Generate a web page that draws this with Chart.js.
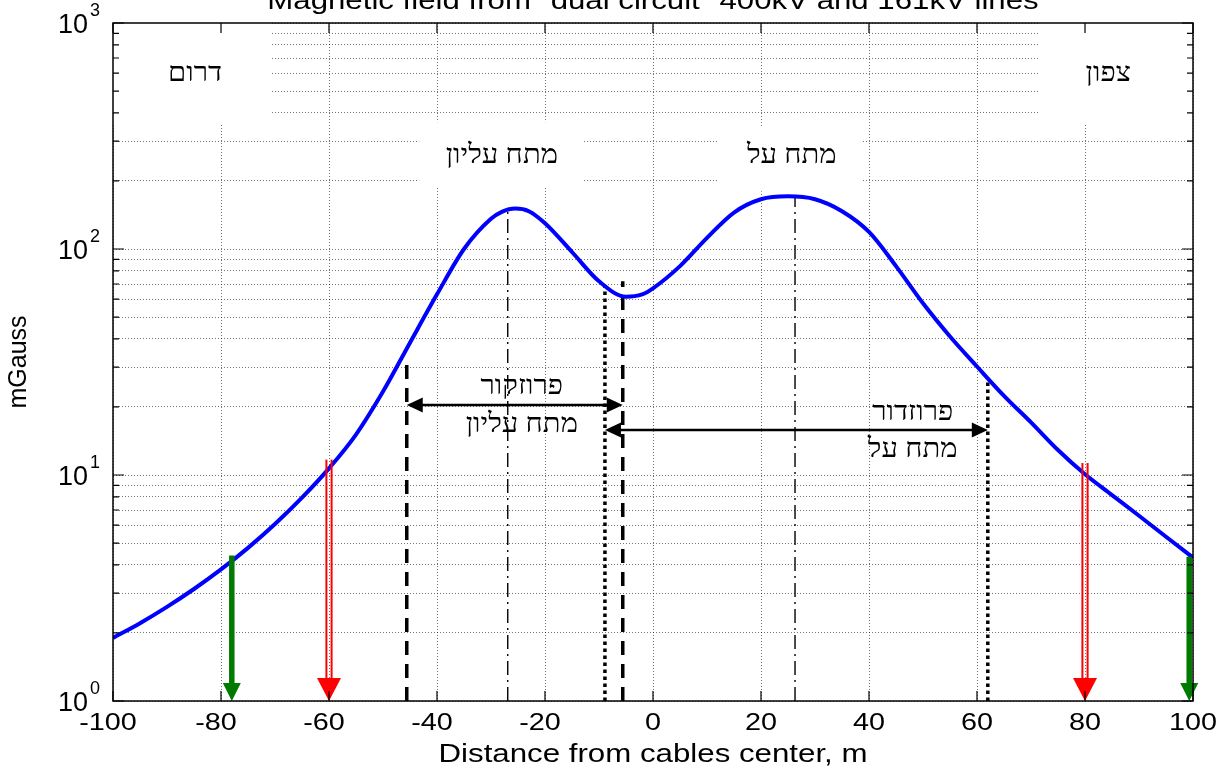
<!DOCTYPE html>
<html>
<head>
<meta charset="utf-8">
<script src="https://cdn.jsdelivr.net/npm/chart.js@4.4.1/dist/chart.umd.min.js"></script>
<style>
html, body { margin: 0; padding: 0; background: #fff; }
#wrap { width: 1227px; height: 772px; position: relative; }
</style>
</head>
<body>
<div id="wrap"><canvas id="myChart"></canvas></div>
<script>
// Curva del campo magnetico
const distance = [-100, -95, -90, -85, -80, -75, -70, -65, -60, -55, -50, -45, -40, -35, -30, -28, -25.5, -23, -20, -15, -10, -5, -2, 0, 5, 10, 15, 20, 25, 30, 35, 40, 45, 50, 55, 60, 65, 70, 75, 80, 85, 90, 95, 100];
const fieldMG = [1.9, 2.21, 2.61, 3.13, 3.82, 4.76, 6.07, 7.94, 10.7, 15.1, 23.4, 38.5, 63, 100, 136, 146, 151, 147, 130, 97, 72, 61.5, 63, 67, 84, 112, 145, 166, 171, 166, 147, 119, 84, 57.5, 41, 30.2, 22.4, 17.1, 12.9, 10.07, 8.15, 6.6, 5.33, 4.31];

// Ejes
const xTicks = [-100, -80, -60, -40, -20, 0, 20, 40, 60, 80, 100];
const yDecades = [1, 10, 100, 1000];
const yExponents = ['0', '1', '2', '3'];

// Lineas verticales (posicion y altura superior)
const dashX = [-45.6, -5.6];
const dashTop = [31, 72];
const dotX = [-8.9, 62];
const dotTop = [68, 26];
const centerX = [-26.9, 26.3];
const centerTop = [150, 171];

// Flechas
const redX = [-60, 80];
const redTop = [11.7, 11.3];
const greenX = [-78, 99.3];
const greenTop = [4.4, 4.35];
const spanFrom = [-45.6, -8.9];
const spanTo = [-5.6, 62];
const spanY = [20.4, 15.8];

// Textos
const titleText = 'Magnetic field from "dual circuit" 400kV and 161kV lines';
const xTitle = 'Distance from cables center, m';
const yTitle = 'mGauss';
const zoneNames = ['דרום', 'צפון', 'מתח עליון', 'מתח על'];
const corridorTop = ['פרוזקור', 'פרוזדור'];
const corridorBottom = ['מתח עליון', 'מתח על'];

// cajas blancas de las zonas: [x1, x2, y1, y2, xTexto, yTexto] en unidades de datos
const zoneBoxes = [
    [-100, -70.9, 1000, 356, -84.8, 594],
    [71.3, 100, 1000, 356, 84.3, 594],
    [-43.3, -12.8, 364, 189, -28, 257],
    [12.2, 38.9, 349, 180, 25.7, 257]
];
const corridorTextX = [-24.3, 48.1];
const corridorTextY = [[24.6, 16.7], [18.9, 12.9]];

const SANS = '"Liberation Sans", Arial';
const SERIF = '"Liberation Serif", serif';

function logTicks() {
    const t = [];
    for (let d = 1; d < 1000; d *= 10) {
        for (let k = 1; k < 10; k++) t.push(k * d);
    }
    t.push(1000);
    return t;
}

function vline(x, top, width, dash) {
    return {
        data: [{ x: x, y: 1 }, { x: x, y: top }],
        borderColor: '#000',
        borderWidth: width,
        borderDash: dash,
        borderCapStyle: 'butt',
        pointRadius: 0,
        order: 2
    };
}

const datasets = [{
    data: distance.map((x, i) => ({ x: x, y: fieldMG[i] })),
    borderColor: '#0000ff',
    borderWidth: 4,
    pointRadius: 0,
    cubicInterpolationMode: 'monotone',
    order: 1
}];
dashX.forEach((x, i) => datasets.push(vline(x, dashTop[i], 3.5, [14, 9])));
dotX.forEach((x, i) => datasets.push(vline(x, dotTop[i], 3.5, [3.5, 3.5])));
centerX.forEach((x, i) => datasets.push(vline(x, centerTop[i], 1.4, [14, 5, 2, 5])));

function arrowHead(ctx, tipX, tipY, dirX, dirY, len, half) {
    const nx = -dirY, ny = dirX;
    ctx.beginPath();
    ctx.moveTo(tipX, tipY);
    ctx.lineTo(tipX - dirX * len + nx * half, tipY - dirY * len + ny * half);
    ctx.lineTo(tipX - dirX * len - nx * half, tipY - dirY * len - ny * half);
    ctx.closePath();
    ctx.fill();
}

// texto algo ensanchado, como en la figura original
function wideText(ctx, txt, x, y, sx) {
    ctx.save();
    ctx.translate(x, y);
    ctx.scale(sx, 1);
    ctx.fillText(txt, 0, 0);
    ctx.restore();
}

const zonesPlugin = {
    id: 'zones',
    beforeDatasetsDraw(chart) {
        const { ctx, scales: { x, y } } = chart;
        ctx.save();
        ctx.fillStyle = '#fff';
        zoneBoxes.forEach(b => {
            const x1 = x.getPixelForValue(b[0]), x2 = x.getPixelForValue(b[1]);
            const y1 = y.getPixelForValue(b[2]), y2 = y.getPixelForValue(b[3]);
            ctx.fillRect(x1, y1, x2 - x1, y2 - y1);
        });
        ctx.fillStyle = '#000';
        ctx.font = '27px ' + SERIF;
        ctx.textAlign = 'center';
        ctx.textBaseline = 'middle';
        zoneBoxes.forEach((b, i) => {
            wideText(ctx, zoneNames[i], x.getPixelForValue(b[4]), y.getPixelForValue(b[5]), 1.08);
        });
        ctx.restore();
    },
    afterDatasetsDraw(chart) {
        const { ctx, chartArea: a, scales: { x, y } } = chart;
        const bottom = a.bottom;
        ctx.save();

        // flechas rojas dobles
        redX.forEach((v, i) => {
            const px = x.getPixelForValue(v), top = y.getPixelForValue(redTop[i]);
            ctx.strokeStyle = '#ff0000';
            ctx.lineWidth = 2;
            [-2.6, 2.6].forEach(o => {
                ctx.beginPath();
                ctx.moveTo(px + o, top);
                ctx.lineTo(px + o, bottom - 20);
                ctx.stroke();
            });
            ctx.fillStyle = '#ff0000';
            arrowHead(ctx, px, bottom, 0, 1, 23, 12);
        });

        // flechas verdes
        greenX.forEach((v, i) => {
            const px = x.getPixelForValue(v), top = y.getPixelForValue(greenTop[i]);
            ctx.strokeStyle = '#007a00';
            ctx.lineWidth = 5.5;
            ctx.beginPath();
            ctx.moveTo(px, top);
            ctx.lineTo(px, bottom - 15);
            ctx.stroke();
            ctx.fillStyle = '#007a00';
            arrowHead(ctx, px, bottom, 0, 1, 18, 9);
        });

        // flechas de corredor
        ctx.strokeStyle = '#000';
        ctx.fillStyle = '#000';
        ctx.lineWidth = 2.5;
        spanFrom.forEach((v, i) => {
            const x1 = x.getPixelForValue(v), x2 = x.getPixelForValue(spanTo[i]);
            const py = y.getPixelForValue(spanY[i]);
            ctx.beginPath();
            ctx.moveTo(x1 + 10, py);
            ctx.lineTo(x2 - 10, py);
            ctx.stroke();
            arrowHead(ctx, x1, py, -1, 0, 16, 7.5);
            arrowHead(ctx, x2, py, 1, 0, 16, 7.5);
        });

        ctx.font = '27px ' + SERIF;
        ctx.textAlign = 'center';
        ctx.textBaseline = 'middle';
        corridorTextX.forEach((v, i) => {
            const px = x.getPixelForValue(v);
            wideText(ctx, corridorTop[i], px, y.getPixelForValue(corridorTextY[i][0]), 1.08);
            wideText(ctx, corridorBottom[i], px, y.getPixelForValue(corridorTextY[i][1]), 1.08);
        });
        ctx.restore();
    },
    afterDraw(chart) {
        const { ctx, chartArea: a, scales: { x, y } } = chart;
        ctx.save();
        // marco
        ctx.strokeStyle = '#000';
        ctx.lineWidth = 1.5;
        ctx.strokeRect(a.left, a.top, a.right - a.left, a.bottom - a.top);

        // marcas hacia dentro
        ctx.lineWidth = 1.2;
        ctx.beginPath();
        xTicks.forEach(v => {
            const px = x.getPixelForValue(v);
            ctx.moveTo(px, a.bottom); ctx.lineTo(px, a.bottom - 10);
            ctx.moveTo(px, a.top); ctx.lineTo(px, a.top + 10);
        });
        logTicks().forEach(v => {
            const py = y.getPixelForValue(v);
            const len = yDecades.includes(v) ? 11 : 6;
            ctx.moveTo(a.left, py); ctx.lineTo(a.left + len, py);
            ctx.moveTo(a.right, py); ctx.lineTo(a.right - len, py);
        });
        ctx.stroke();

        // etiquetas
        ctx.fillStyle = '#000';
        ctx.font = '24px ' + SANS;
        ctx.textAlign = 'center';
        ctx.textBaseline = 'middle';
        xTicks.forEach(v => {
            wideText(ctx, String(v), x.getPixelForValue(v) - (v < 0 ? 5 : 0), a.bottom + 22, 1.2);
        });

        yDecades.forEach((v, i) => {
            const py = y.getPixelForValue(v);
            ctx.font = '27px ' + SANS;
            ctx.textAlign = 'right';
            ctx.fillText('10', 88, py + 3);
            ctx.font = '18px ' + SANS;
            ctx.textAlign = 'left';
            ctx.fillText(yExponents[i], 90, py - 12);
        });

        ctx.font = '25px ' + SANS;
        ctx.textAlign = 'center';
        wideText(ctx, xTitle, (a.left + a.right) / 2, 755, 1.25);
        ctx.textBaseline = 'alphabetic';
        ctx.font = '26px ' + SANS;
        wideText(ctx, titleText, (a.left + a.right) / 2, 9, 1.2);

        ctx.font = '25px ' + SANS;
        ctx.translate(19, (a.top + a.bottom) / 2);
        ctx.rotate(-Math.PI / 2);
        ctx.textBaseline = 'middle';
        ctx.fillText(yTitle, 0, 0);
        ctx.restore();
    }
};

const gridStyle = { color: 'rgba(0,0,0,0.55)', lineWidth: 1, drawTicks: false };

var myChart = new Chart(document.getElementById('myChart'), {
    type: 'line',
    data: { datasets: datasets },
    options: {
        responsive: true,
        maintainAspectRatio: false,
        animation: false,
        layout: { padding: { top: 23, right: 34, left: 0, bottom: 0 } },
        plugins: {
            legend: { display: false },
            tooltip: { enabled: false },
            title: { display: false }
        },
        scales: {
            x: {
                type: 'linear',
                min: -100,
                max: 100,
                ticks: { stepSize: 20, display: false },
                grid: gridStyle,
                border: { display: false, dash: [1, 2] },
                afterFit(s) { s.height = 71; }
            },
            y: {
                type: 'logarithmic',
                min: 1,
                max: 1000,
                afterBuildTicks(s) { s.ticks = logTicks().map(v => ({ value: v })); },
                ticks: { display: false },
                grid: gridStyle,
                border: { display: false, dash: [1, 2] },
                afterFit(s) { s.width = 113; }
            }
        }
    },
    plugins: [zonesPlugin]
});
</script>
</body>
</html>
